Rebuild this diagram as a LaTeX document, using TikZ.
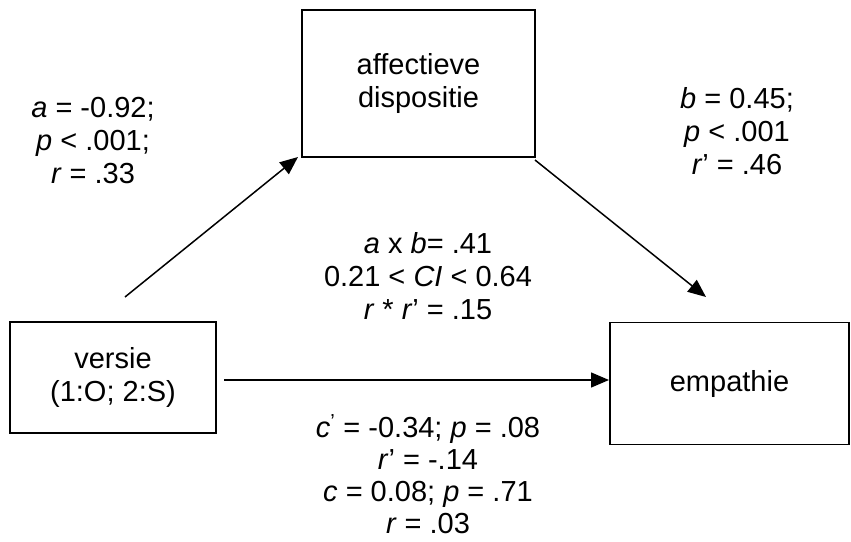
\documentclass[tikz,border=0pt]{standalone}
\usepackage{fontspec}
\setmainfont{Liberation Sans}
\usetikzlibrary{arrows.meta}
\begin{document}
\begin{tikzpicture}[x=1pt,y=-1pt,
  box/.style={draw,line width=1.2pt,inner sep=0pt},
  lbl/.style={align=center,font=\fontsize{29}{33}\selectfont,inner sep=0pt},
  conn/.style={line width=1.5pt,-{Triangle[length=18pt,width=15pt]}}]
\useasboundingbox (0,0) rectangle (851,541);
\node[box,minimum width=233pt,minimum height=147pt,lbl] (med) at (418.5,83.5) {affectieve\\dispositie};
\node[box,minimum width=206pt,minimum height=111pt,lbl] (x) at (113,377.5) {versie\\(1:O; 2:S)};
\node[box,minimum width=239pt,minimum height=122pt,lbl] (y) at (729.5,383.5) {empathie};
\coordinate (a0) at (125,297);
\coordinate (a1) at (298,157);
\coordinate (b0) at (535,160);
\coordinate (b1) at (706,297);
\coordinate (c0) at (224,380);
\coordinate (c1) at (609,380);
\draw[conn] (a0) -- (a1);
\draw[conn] (b0) -- (b1);
\draw[conn] (c0) -- (c1);
\node[lbl] (la) at (93,141) {\textit{a} = -0.92;\\\textit{p} < .001;\\\textit{r} = .33};
\node[lbl] (lb) at (737,131) {\textit{b} = 0.45;\\\textit{p} < .001\\\textit{r}’ = .46};
\node[lbl] (lab) at (428,276) {\textit{a} x \textit{b}= .41\\0.21 < \textit{CI} < 0.64\\\textit{r} * \textit{r}’ = .15};
\node[lbl,font=\fontsize{29}{32}\selectfont] (lc) at (428,474) {\textit{c}\textsuperscript{’} = -0.34; \textit{p} = .08\\\textit{r}’ = -.14\\\textit{c} = 0.08; \textit{p} = .71\\\textit{r} = .03};
\end{tikzpicture}
\end{document}
